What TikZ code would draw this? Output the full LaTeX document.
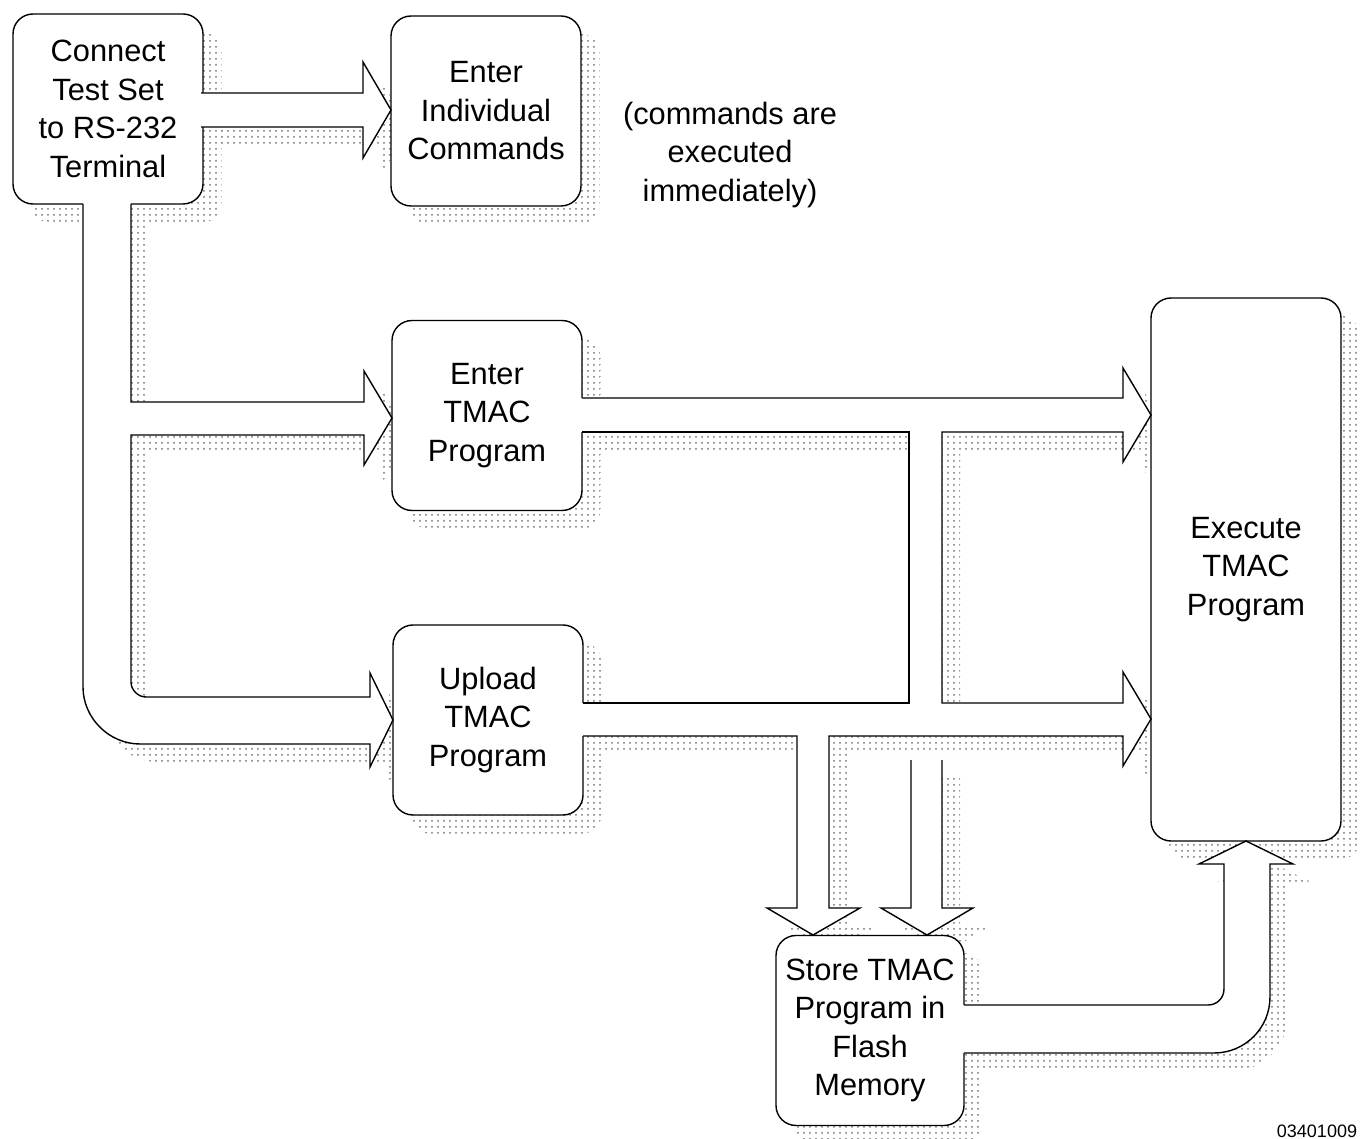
\documentclass[tikz,border=0pt]{standalone}
\usepackage{fontspec}
\setmainfont{Liberation Sans}
\usetikzlibrary{patterns,backgrounds}

\newcommand\boxfont{\fontsize{15.4}{19.25}\selectfont}
\newcommand\boxshadow[1]{\fill[shadowfill, rounded corners=10pt] ([shift={(9pt,-9pt)}]#1.south west) rectangle ([shift={(9pt,-9pt)}]#1.north east);}

\tikzset{
  procbox/.style={draw, fill=white, rounded corners=10pt, align=center, inner sep=0pt,
    minimum width=95pt, minimum height=95pt, font=\boxfont},
  shadowfill/.style={pattern=dots, pattern color=black!55}
}

% fat arrows (pixel units, y downwards)
\def\pipeind{(201,93) -- (363,93) -- (363,62) -- (391,110) -- (363,158) -- (363,127) -- (201,127)}
\def\pipetrunk{(83,204) -- (83,687) .. controls (83,718) and (109,744) .. (140,744) -- (370,744) -- (370,767) -- (393,720) -- (370,673) -- (370,697) -- (146,697) .. controls (138,697) and (131,690) .. (131,682) -- (131,435) -- (364,435) -- (364,465) -- (392,418) -- (364,371) -- (364,402) -- (131,402) -- (131,204)}
\def\pipetmac{(582,398) -- (1123,398) -- (1123,368) -- (1151,415) -- (1123,462) -- (1123,432) -- (942,432) -- (942,703) -- (1123,703) -- (1123,672) -- (1151,719) -- (1123,766) -- (1123,736) -- (829,736) -- (829,908) -- (860,908) -- (813,935) -- (767,908) -- (797,908) -- (797,736) -- (583,736)}
\def\pipeupl{-- (909,703) -- (909,432) -- (582,432)}
\def\pipeflash{(911,760) -- (911,908) -- (881,908) -- (927,935) -- (973,908) -- (942,908) -- (942,760)}
\def\pipeexec{(964,1005) -- (1208,1005) .. controls (1217,1005) and (1224,998) .. (1224,989) -- (1224,864) -- (1199,864) -- (1246,841) -- (1293,864) -- (1270,864) -- (1270,997) .. controls (1270,1028) and (1245,1053) .. (1214,1053) -- (964,1053)}

\begin{document}
\begin{tikzpicture}[x=0.5pt, y=-0.5pt, line width=0.7pt]
\useasboundingbox (0,0) rectangle (1362,1139);

% boxes
\node[procbox] (conn) at (108,109) {Connect\\Test Set\\to RS-232\\Terminal};
\node[procbox] (enterind) at (486,111) {Enter\\Individual\\Commands};
\node[procbox] (entertmac) at (487,415.5) {Enter\\TMAC\\Program};
\node[procbox] (upload) at (488,720) {Upload\\TMAC\\Program};
\node[procbox, minimum height=271.5pt] (execute) at (1246,569.5) {Execute\\TMAC\\Program};
\node[procbox, minimum width=94pt] (store) at (870,1030.5) {Store TMAC\\Program in\\Flash\\Memory};

\node[font=\boxfont, align=center] (note) at (730,155) {(commands are\\executed\\immediately)};
\node[font=\fontsize{9}{11}\selectfont] (figno) at (1317,1131) {03401009};

% fat arrows
\fill[white] \pipeind -- cycle;
\fill[white] \pipetrunk -- cycle;
\fill[white] \pipetmac -- (583,703) \pipeupl -- cycle;
\fill[white] \pipeflash -- cycle;
\fill[white] \pipeexec -- cycle;
\foreach \a/\b in {{201,93}/{201,127}, {83,204}/{131,204}, {582,398}/{582,432}, {583,703}/{583,736}, {964,1005}/{964,1053}}
  \draw[white, line width=1.4pt] (\a) -- (\b);
\draw \pipeind;
\draw \pipetrunk;
\draw \pipetmac;
\draw (583,703) \pipeupl;
\draw \pipeflash;
\draw \pipeexec;

% stippled shadows
\begin{scope}[on background layer]
  \foreach \b in {conn,enterind,entertmac,upload,execute,store} {\boxshadow{\b}}
  \begin{scope}[shift={(18,18)}]
    \fill[shadowfill] \pipeind -- cycle;
    \fill[shadowfill] \pipetrunk -- cycle;
    \fill[shadowfill] \pipetmac -- (583,703) \pipeupl -- cycle;
    \fill[shadowfill] \pipeflash -- cycle;
    \fill[shadowfill] \pipeexec -- cycle;
  \end{scope}
\end{scope}
\end{tikzpicture}
\end{document}
